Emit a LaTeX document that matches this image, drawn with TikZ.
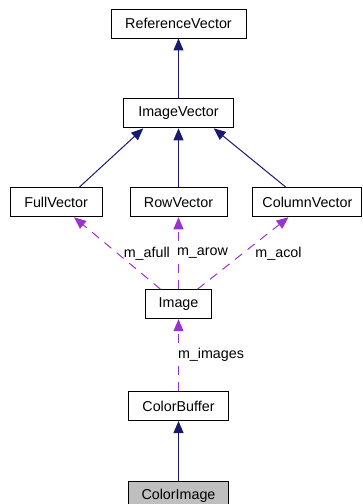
\documentclass[tikz,border=0pt]{standalone}
\usepackage{fontspec}
\setmainfont{Liberation Sans}
\usetikzlibrary{positioning,arrows.meta}

\definecolor{inheritblue}{RGB}{25,25,112}
\definecolor{usepurple}{RGB}{154,50,205}
\definecolor{grey75}{RGB}{191,191,191}

\tikzset{
  classbox/.style={draw, line width=0.9pt, minimum height=29pt, inner xsep=6pt,
    font=\fontsize{14.3}{17}\selectfont},
  inherit/.style={draw=inheritblue, line width=1pt,
    -{Triangle[width=10pt,length=12pt]}},
  uses/.style={draw=usepurple, line width=1pt, dash pattern=on 9pt off 7pt,
    -{Triangle[width=10pt,length=12pt]}},
  edgelabel/.style={fill=white, inner sep=0pt, anchor=west,
    font=\fontsize{14.3}{17}\selectfont},
}

\begin{document}
\begin{tikzpicture}[x=1pt, y=-1pt]
  \useasboundingbox (0, 0) rectangle (363, 504);

  % class boxes
  \node[classbox, minimum width=135pt] (referenceVector) at (178.5, 23.5) {ReferenceVector};
  \node[classbox, minimum width=110pt, below = 60pt of referenceVector] (imageVector) {ImageVector};
  \node[classbox, minimum width=97pt, below = 59pt of imageVector] (rowVector) {RowVector};
  \node[classbox, minimum width=92pt, left = 27pt of rowVector] (fullVector) {FullVector};
  \node[classbox, minimum width=109pt, right = 25pt of rowVector] (columnVector) {ColumnVector};
  \node[classbox, minimum width=66pt, below = 72pt of rowVector] (image) {Image};
  \node[classbox, minimum width=100pt, below = 72pt of image] (colorBuffer) {ColorBuffer};
  \node[classbox, minimum width=100pt, fill=grey75, below = 60pt of colorBuffer] (colorImage) {ColorImage};

  % inheritance
  \draw[inherit] (imageVector) -- (referenceVector);
  \draw[inherit] (fullVector.33) -- (imageVector.-157);
  \draw[inherit] (rowVector) -- (imageVector);
  \draw[inherit] (columnVector.145) -- (imageVector.-23);
  \draw[inherit] (colorImage) -- (colorBuffer);

  % members
  \draw[uses] (image) -- node[edgelabel, xshift=6pt] {m\_afull} (fullVector);
  \draw[uses] (image) -- node[edgelabel, xshift=-2pt] {m\_arow} (rowVector);
  \draw[uses] (image) -- node[edgelabel, xshift=12pt] {m\_acol} (columnVector);
  \draw[uses] (colorBuffer) -- node[edgelabel, xshift=-1pt] {m\_images} (image);
\end{tikzpicture}
\end{document}
